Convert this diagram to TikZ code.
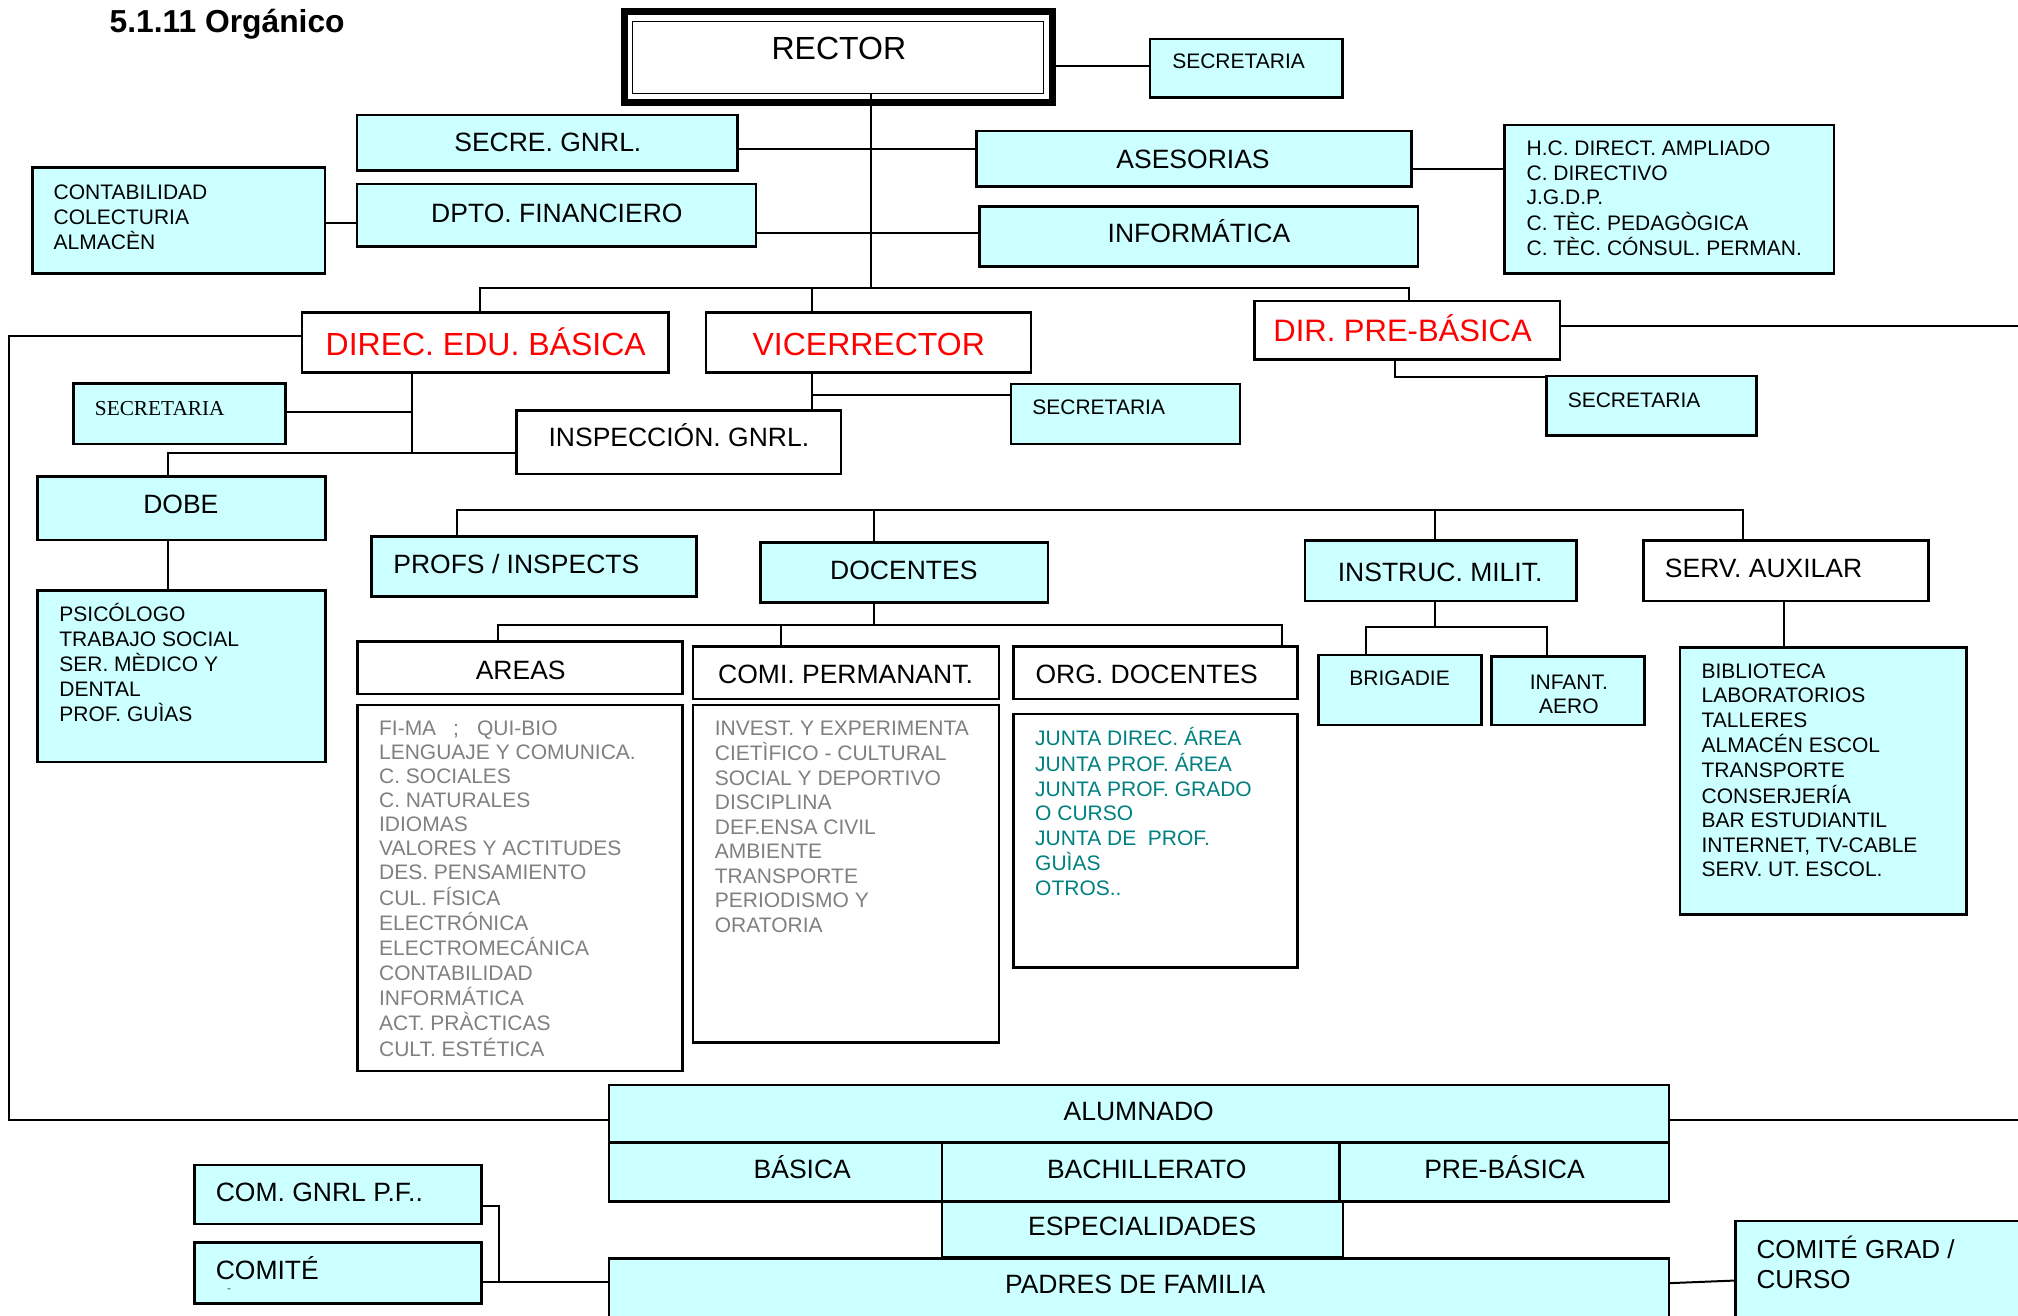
\documentclass[tikz,border=0pt]{standalone}
\usepackage{fontspec}
\setmainfont{Liberation Sans}
\newfontfamily\serifsec{Liberation Serif}
\usetikzlibrary{fit}
\definecolor{cyanbox}{HTML}{CCFFFF}
\definecolor{graytxt}{HTML}{808080}
\definecolor{tealtxt}{HTML}{008080}
\definecolor{redtxt}{HTML}{FF0000}
\newcommand\lst[1]{\begin{tabular}[t]{@{}l@{}}#1\end{tabular}}
\newcommand\clst[1]{\begin{tabular}[t]{@{}c@{}}#1\end{tabular}}
\begin{document}
\begin{tikzpicture}[x=1.287pt,y=-1.287pt,
 wbox/.style={draw=black,line width=2.6pt,inner sep=0pt,fill=white},
 cbox/.style={wbox,fill=cyanbox},
 conn/.style={draw=black,line width=2pt},
 lbl/.style={inner sep=0pt,font=\fontsize{26.5}{30}\selectfont},
 lbls/.style={inner sep=0pt,font=\fontsize{21}{24.54}\selectfont},
 lblr/.style={inner sep=0pt,font=\fontsize{32}{36}\selectfont,text=redtxt},
]
\useasboundingbox (0,0) rectangle (1568,1022);
\clip (0,0) rectangle (1568,1022);

% title
\node[anchor=base west,inner sep=0pt,font=\bfseries\fontsize{31.8}{36}\selectfont] (title) at (85,25) {5.1.11 Orgánico};

% ---------- boxes ----------
\node[draw=black,line width=7pt,inner sep=0pt,fill=white,fit={(485.5,9.2)(817.8,79.7)}] (rector) {};
\node[draw=black,line width=1.3pt,inner sep=0pt,fit={(491.5,16.8)(811,72.5)}] (rectori) {};
\node[cbox,fit={(893.6,30.3)(1043,75.9)}] (sec0) {};
\node[cbox,fit={(277.5,89.4)(573,132.6)}] (secre) {};
\node[cbox,fit={(277.5,143)(587.4,191.7)}] (dpto) {};
\node[cbox,fit={(25.3,130.3)(252.5,212.4)}] (conta) {};
\node[cbox,fit={(758.6,101.8)(1096.6,145)}] (ases) {};
\node[cbox,fit={(761,160.6)(1101.8,207.2)}] (info) {};
\node[cbox,fit={(1169,97)(1425,212.4)}] (hc) {};
\node[wbox,fit={(234.6,243)(519.6,289.6)}] (direc) {};
\node[wbox,fit={(548.6,243)(801,289.6)}] (vice) {};
\node[wbox,fit={(974.6,234)(1212,279.5)}] (dirpre) {};
\node[cbox,fit={(1201.4,292)(1365,338.5)}] (sec3) {};
\node[cbox,fit={(785.6,298.4)(963.6,345)}] (sec2) {};
\node[cbox,fit={(57,298)(221.6,345)}] (sec1) {};
\node[wbox,fit={(401.5,319)(653.5,368.4)}] (insp) {};
\node[cbox,fit={(29,370.4)(253,419.6)}] (dobe) {};
\node[cbox,fit={(29,459)(253,592)}] (psi) {};
\node[cbox,fit={(288.6,417)(541,463.6)}] (profs) {};
\node[cbox,fit={(591,421.6)(814.3,468.3)}] (doc) {};
\node[cbox,fit={(1014,420)(1225,467)}] (instr) {};
\node[wbox,fit={(1276.8,420)(1498.6,467)}] (serv) {};
\node[wbox,fit={(277.9,498.6)(530.5,539.2)}] (areas) {};
\node[wbox,fit={(538.5,502.5)(776.3,543.2)}] (comi) {};
\node[wbox,fit={(787.7,502.5)(1008.2,543.2)}] (org) {};
\node[wbox,fit={(277.8,547.8)(530.5,832.2)}] (arealist) {};
\node[wbox,fit={(538.5,547.8)(776.3,809.9)}] (comilist) {};
\node[wbox,fit={(787.7,554.8)(1008.2,751.9)}] (orglist) {};
\node[cbox,fit={(1024.5,509)(1151,563.3)}] (brig) {};
\node[cbox,fit={(1159,510)(1278,563.3)}] (inf) {};
\node[cbox,fit={(1305.5,503)(1528,710.4)}] (bib) {};
\node[cbox,fit={(473.2,843)(1296.7,887.9)}] (alum) {};
\node[cbox,fit={(473.2,887.9)(732,933.7)}] (bas) {};
\node[cbox,fit={(732,887.9)(1040.9,933.7)}] (bach) {};
\node[cbox,fit={(1040.9,887.9)(1296.7,933.7)}] (pre) {};
\node[cbox,fit={(732,933.7)(1043.5,977)}] (esp) {};
\node[cbox,fit={(473.2,977.7)(1296.7,1040)}] (padres) {};
\node[cbox,fit={(151.1,905.2)(374.1,951)}] (comg) {};
\node[cbox,fit={(151.1,965.6)(374.1,1012.7)}] (comite) {};
\node[cbox,fit={(1348.6,948.7)(1590,1040)}] (cgrad) {};

% ---------- connector coordinates ----------
\coordinate (trunk) at (676.8,224);
\coordinate (redge1) at (1600,253);
\coordinate (redge2) at (1600,870.2);
\coordinate (lcorner1) at (6.9,260.8);
\coordinate (lcorner2) at (6.9,870.2);

% ---------- connectors ----------
\draw[conn] (trunk |- rectori.south) -- (trunk);
\draw[conn] (rector.east |- 0,51) -- (sec0.west |- 0,51);
\draw[conn] (secre.east |- 0,116) -- (ases.west |- 0,116);
\draw[conn] (dpto.east |- 0,181.3) -- (info.west |- 0,181.3);
\draw[conn] (conta.east |- 0,173.5) -- (dpto.west |- 0,173.5);
\draw[conn] (ases.east |- 0,131.6) -- (hc.west |- 0,131.6);
\draw[conn] (direc.north -| 373,0) -- (373,224) -- (1094.5,224) -- (dirpre.north -| 1094.5,0);
\draw[conn] (631,224) -- (vice.north -| 631,0);
\draw[conn] (dirpre.east |- redge1) -- (redge1);
\draw[conn] (dirpre.south -| 1083.6,0) -- (1083.6,293) -- (sec3.west |- 0,293);
\draw[conn] (direc.west |- lcorner1) -- (lcorner1) -- (lcorner2) -- (alum.west |- lcorner2);
\draw[conn] (alum.east |- redge2) -- (redge2);
\draw[conn] (vice.south -| 631,0) -- (insp.north -| 631,0);
\draw[conn] (631,307.2) -- (sec2.west |- 0,307.2);
\draw[conn] (direc.south -| 320.2,0) -- (320.2,352.2);
\draw[conn] (320.2,320.4) -- (sec1.east |- 0,320.4);
\draw[conn] (dobe.north -| 130.2,0) -- (130.2,352.2) -- (insp.west |- 0,352.2);
\draw[conn] (dobe.south -| 130.2,0) -- (psi.north -| 130.2,0);
\draw[conn] (profs.north -| 355,0) -- (355,396.3) -- (1354.4,396.3) -- (serv.north -| 1354.4,0);
\draw[conn] (679.3,396.3) -- (doc.north -| 679.3,0);
\draw[conn] (1115,396.3) -- (instr.north -| 1115,0);
\draw[conn] (doc.south -| 679.3,0) -- (679.3,485.6);
\draw[conn] (areas.north -| 387.2,0) -- (387.2,485.6) -- (996,485.6) -- (org.north -| 996,0);
\draw[conn] (606.6,485.6) -- (comi.north -| 606.6,0);
\draw[conn] (instr.south -| 1115,0) -- (1115,487);
\draw[conn] (brig.north -| 1061.5,0) -- (1061.5,487) -- (1202,487) -- (inf.north -| 1202,0);
\draw[conn] (serv.south -| 1386,0) -- (bib.north -| 1386,0);
\draw[conn] (comg.east |- 0,937) -- (387.5,937) -- (387.5,995.9);
\draw[conn] (comite.east |- 0,995.9) -- (padres.west |- 0,995.9);
\draw[conn] (padres.east |- 0,997) -- (cgrad.west |- 0,995);

% ---------- texts ----------
\node[inner sep=0pt,font=\fontsize{32}{36}\selectfont,anchor=base] (rector-t) at (651.8,46.6) {RECTOR};
\node[lbls,anchor=base west] (sec0-t) at (910.7,53) {SECRETARIA};
\node[lbl,anchor=base] (secre-t) at (425.7,118) {SECRE. GNRL.};
\node[lbl,anchor=base] (dpto-t) at (432.7,172.5) {DPTO. FINANCIERO};
\node[lbls,anchor=base west] (conta-t) at (41.6,155) {\lst{CONTABILIDAD\\COLECTURIA\\ALMACÈN}};
\node[lbl,anchor=base] (ases-t) at (927,130.8) {ASESORIAS};
\node[lbl,anchor=base] (info-t) at (931.6,188.8) {INFORMÁTICA};
\node[lbls,anchor=base west] (hc-t) at (1186,121) {\lst{H.C. DIRECT. AMPLIADO\\C. DIRECTIVO\\J.G.D.P.\\C. TÈC. PEDAGÒGICA\\C. TÈC. CÓNSUL. PERMAN.}};
\node[lblr,anchor=base] (direc-t) at (377.4,276) {DIREC. EDU. BÁSICA};
\node[lblr,anchor=base] (vice-t) at (675,276) {VICERRECTOR};
\node[lblr,anchor=base,font=\fontsize{31}{36}\selectfont] (dirpre-t) at (1089.8,265.6) {DIR. PRE-BÁSICA};
\node[lbls,anchor=base west] (sec3-t) at (1218,317) {SECRETARIA};
\node[lbls,anchor=base west] (sec2-t) at (802,322) {SECRETARIA};
\node[inner sep=0pt,font=\serifsec\fontsize{21.3}{24}\selectfont,anchor=base west] (sec1-t) at (73.6,322.5) {SECRETARIA};
\node[lbl,anchor=base] (insp-t) at (527.5,347) {INSPECCIÓN. GNRL.};
\node[lbl,anchor=base] (dobe-t) at (140.5,398.7) {DOBE};
\node[lbls,anchor=base west] (psi-t) at (46,483) {\lst{PSICÓLOGO\\TRABAJO SOCIAL\\SER. MÈDICO Y\\DENTAL\\PROF. GUÌAS}};
\node[lbl,anchor=base west] (profs-t) at (305.5,445.5) {PROFS / INSPECTS};
\node[lbl,anchor=base] (doc-t) at (702.3,450) {DOCENTES};
\node[lbl,anchor=base] (instr-t) at (1119,452) {INSTRUC. MILIT.};
\node[lbl,anchor=base west] (serv-t) at (1293.5,448.6) {SERV. AUXILAR};
\node[lbl,anchor=base] (areas-t) at (404.6,528) {AREAS};
\node[lbl,anchor=base] (comi-t) at (657,531) {COMI. PERMANANT.};
\node[lbl,anchor=base] (org-t) at (891,531) {ORG. DOCENTES};
\node[inner sep=0pt,font=\fontsize{21}{24.1}\selectfont,text=graytxt,anchor=base west] (arealist-t) at (294.4,571.1) {\lst{FI-MA\hspace{17pt};\hspace{18pt}QUI-BIO\\LENGUAJE Y COMUNICA.\\C. SOCIALES\\C. NATURALES\\IDIOMAS\\VALORES Y ACTITUDES\\DES. PENSAMIENTO\\CUL. FÍSICA\\ELECTRÓNICA\\ELECTROMECÁNICA\\CONTABILIDAD\\INFORMÁTICA\\ACT. PRÀCTICAS\\CULT. ESTÉTICA}};
\node[lbls,text=graytxt,anchor=base west] (comilist-t) at (555.3,571.1) {\lst{INVEST. Y EXPERIMENTA\\CIETÌFICO - CULTURAL\\SOCIAL Y DEPORTIVO\\DISCIPLINA\\DEF.ENSA CIVIL\\AMBIENTE\\TRANSPORTE\\PERIODISMO Y\\ORATORIA}};
\node[lbls,text=tealtxt,anchor=base west] (orglist-t) at (804.2,579.6) {\lst{JUNTA DIREC. ÁREA\\JUNTA PROF. ÁREA\\JUNTA PROF. GRADO\\O CURSO\\JUNTA DE\ \ PROF.\\GUÌAS\\OTROS..}};
\node[lbls,anchor=base] (brig-t) at (1087.5,533) {BRIGADIE};
\node[inner sep=0pt,font=\fontsize{21}{23.7}\selectfont,anchor=base] (inf-t) at (1219,535.6) {\clst{INFANT.\\AERO}};
\node[lbls,anchor=base west] (bib-t) at (1322,527) {\lst{BIBLIOTECA\\LABORATORIOS\\TALLERES\\ALMACÉN ESCOL\\TRANSPORTE\\CONSERJERÍA\\BAR ESTUDIANTIL\\INTERNET, TV-CABLE\\SERV. UT. ESCOL.}};
\node[lbl,anchor=base] (alum-t) at (884.8,871) {ALUMNADO};
\node[lbl,anchor=base] (bas-t) at (623.4,915.6) {BÁSICA};
\node[lbl,anchor=base] (bach-t) at (891,916) {BACHILLERATO};
\node[lbl,anchor=base] (pre-t) at (1169,916) {PRE-BÁSICA};
\node[lbl,anchor=base] (esp-t) at (887.5,959.6) {ESPECIALIDADES};
\node[lbl,anchor=base] (padres-t) at (882,1005) {PADRES DE FAMILIA};
\node[lbl,anchor=base west] (comg-t) at (167.5,933.7) {COM. GNRL P.F..};
\node[lbl,anchor=base west] (comite-t) at (167.5,994) {COMITÉ};
\node[inner sep=0pt,font=\fontsize{12}{14}\selectfont,text=black!70] (comite-d) at (178,1002.5) {-};
\node[inner sep=0pt,font=\fontsize{26}{29.6}\selectfont,anchor=base west] (cgrad-t) at (1364.8,978) {\lst{COMITÉ GRAD /\\CURSO}};
\end{tikzpicture}
\end{document}
